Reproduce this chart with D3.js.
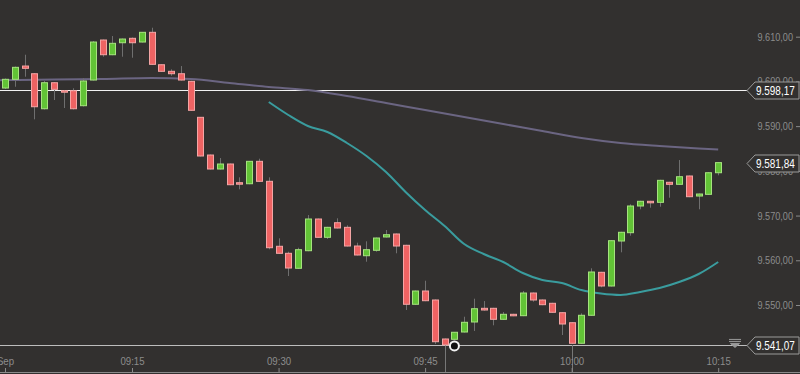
<!DOCTYPE html>
<html>
<head>
<meta charset="utf-8">
<script src="https://cdn.jsdelivr.net/npm/d3@7"></script>
<style>
  html, body { margin: 0; padding: 0; background: #32302f; overflow: hidden; }
  svg { display: block; }
  text { font-family: "Liberation Sans", Arial, sans-serif; }
</style>
</head>
<body>
<svg id="chart" width="800" height="374"></svg>
<script>
//-----------------------------------------------------//
// Data (1 minute candles)

const startTime = "09:02";
const endTime = "10:15";

const opens = [9598.52, 9600.47, 9603.44, 9601.72, 9593.89, 9599.71, 9597.92, 9597.92, 9594.57, 9600.31,
  9609.26, 9605.97, 9608.65, 9609.64, 9608.81, 9610.98, 9603.73, 9602.26, 9601.72, 9600.02,
  9591.97, 9583.54, 9580.41, 9581.53, 9577.35, 9577.12, 9582.13, 9577.66, 9563.13, 9561.56,
  9558.21, 9562.14, 9569.23, 9565.14, 9568.40, 9567.37, 9563.19, 9561.02, 9562.23, 9565.21,
  9565.88, 9563.35, 9550.16, 9553.13, 9551.12, 9542.40, 9542.33, 9543.96, 9546.20, 9549.26,
  9549.26, 9546.80, 9547.92, 9547.61, 9552.68, 9551.12, 9550.38, 9548.28, 9546.04, 9541.44,
  9547.70, 9557.31, 9554.25, 9564.31, 9566.17, 9572.14, 9573.19, 9572.96, 9577.44, 9576.99,
  9578.85, 9574.37, 9574.75, 9579.58];
const highs = [9600.65, 9603.33, 9605.97, 9601.88, 9600.09, 9599.87, 9598.08, 9598.46, 9600.69, 9609.03,
  9609.37, 9610.15, 9609.59, 9609.82, 9611.05, 9612.01, 9603.82, 9602.70, 9603.44, 9600.13,
  9592.04, 9583.65, 9582.87, 9581.64, 9578.55, 9582.20, 9582.71, 9578.55, 9564.91, 9561.92,
  9562.81, 9570.12, 9569.34, 9567.48, 9569.39, 9567.82, 9563.93, 9564.24, 9565.09, 9566.77,
  9565.99, 9563.46, 9553.24, 9555.43, 9551.23, 9542.50, 9543.96, 9547.38, 9551.41, 9550.89,
  9549.37, 9548.43, 9548.03, 9553.13, 9552.80, 9551.23, 9550.49, 9548.39, 9546.15, 9548.14,
  9558.21, 9557.42, 9564.49, 9566.37, 9572.52, 9573.30, 9573.30, 9577.99, 9577.55, 9582.42,
  9578.96, 9574.93, 9579.69, 9581.86];
const lows = [9598.30, 9598.81, 9601.05, 9591.52, 9593.72, 9595.84, 9594.05, 9593.72, 9594.39, 9600.20,
  9605.52, 9605.86, 9605.52, 9605.30, 9608.70, 9603.71, 9602.15, 9601.27, 9600.20, 9593.43,
  9583.21, 9580.30, 9580.30, 9576.79, 9575.87, 9577.01, 9577.55, 9562.46, 9561.45, 9556.48,
  9558.09, 9562.03, 9565.03, 9564.76, 9567.11, 9563.08, 9561.07, 9559.68, 9561.92, 9565.09,
  9561.56, 9548.88, 9550.04, 9550.85, 9541.28, 9541.07, 9542.22, 9543.85, 9544.19, 9548.73,
  9545.46, 9546.69, 9547.50, 9547.50, 9550.74, 9549.96, 9548.26, 9543.29, 9541.28, 9541.33,
  9547.59, 9553.96, 9554.14, 9561.78, 9565.50, 9571.40, 9571.76, 9571.98, 9573.99, 9576.88,
  9574.11, 9571.40, 9574.64, 9579.00];
const closes = [9600.47, 9603.15, 9602.93, 9594.34, 9599.71, 9598.23, 9597.70, 9593.89, 9600.09, 9608.81,
  9605.97, 9608.52, 9609.48, 9608.65, 9610.98, 9603.82, 9602.26, 9601.72, 9600.31, 9593.54,
  9583.32, 9580.41, 9581.53, 9576.90, 9577.21, 9582.13, 9577.66, 9562.81, 9561.56, 9558.27,
  9562.37, 9569.23, 9565.14, 9567.37, 9567.22, 9563.19, 9561.18, 9562.37, 9564.98, 9565.72,
  9563.19, 9550.16, 9553.13, 9550.96, 9541.79, 9541.07, 9543.90, 9546.13, 9549.17, 9548.88,
  9546.80, 9547.92, 9547.61, 9552.68, 9551.12, 9550.07, 9548.37, 9545.75, 9541.44, 9547.70,
  9557.38, 9554.25, 9564.38, 9566.26, 9572.14, 9573.19, 9572.88, 9577.88, 9576.99, 9578.69,
  9574.22, 9574.82, 9579.58, 9581.84];

// slow moving average (purple)
const slowMaTimes = ["09:01", "09:02", "09:07", "09:12", "09:17", "09:21", "09:25", "09:29", "09:33", "09:37",
  "09:41", "09:45", "09:49", "09:53", "09:57", "10:01", "10:05", "10:09", "10:13", "10:15"];
const slowMaValues = [9600.25, 9600.31, 9600.42, 9600.54, 9600.76, 9600.54, 9599.64, 9598.75, 9598.08, 9596.73,
  9595.17, 9593.60, 9592.04, 9590.47, 9588.91, 9587.34, 9586.23, 9585.55, 9585.00, 9584.77];

// fast moving average (teal)
const fastMaTimes = ["09:29", "09:31", "09:33", "09:35", "09:37", "09:39", "09:41", "09:43", "09:45", "09:47",
  "09:49", "09:51", "09:53", "09:55", "09:57", "09:59", "10:01", "10:03", "10:05", "10:07",
  "10:09", "10:11", "10:13", "10:15"];
const fastMaValues = [9595.39, 9592.49, 9590.03, 9588.69, 9586.23, 9583.32, 9579.74, 9575.27, 9571.24, 9567.67,
  9563.64, 9561.40, 9559.62, 9557.16, 9555.59, 9554.92, 9553.35, 9552.57, 9552.24, 9552.91,
  9553.80, 9555.14, 9556.93, 9559.62];

const priceTicks = [9550, 9560, 9570, 9580, 9590, 9600, 9610];
const timeTicks = ["09:02", "09:15", "09:30", "09:45", "10:00", "10:15"];
const timeTickLabels = ["Sep", "09:15", "09:30", "09:45", "10:00", "10:15"];

const refLevel = 9598.17;   // white horizontal line
const lowLevel = 9541.07;   // session low line
const lastPrice = 9581.84;
const lowMarkTimes = ["09:47", "10:00"];  // candles touching the low
const circleTime = "09:48";

//-----------------------------------------------------//

const parseT = d3.timeParse("%H:%M");
const times = d3.timeMinute.range(parseT(startTime), d3.timeMinute.offset(parseT(endTime), 1));
const candles = times.map((t, i) => ({ t: t, o: opens[i], h: highs[i], l: lows[i], c: closes[i] }));

const locale = d3.formatLocale({ decimal: ",", thousands: ".", grouping: [3], currency: ["", ""] });
const fmt = locale.format(",.2f");

// narrow-looking text: squeeze horizontally
const squeeze = 0.83;

const svg = d3.select("#chart");

const x = d3.scaleTime()
  .domain([parseT(startTime), parseT(endTime)])
  .range([5, 718.2]);

const y = d3.scaleLinear()
  .domain([9550, 9610])
  .range([305, 36.7]);

const bodyW = 7;

// ref line
svg.append("line")
  .attr("x1", 0).attr("x2", 748)
  .attr("y1", Math.round(y(refLevel)) + 0.5).attr("y2", Math.round(y(refLevel)) + 0.5)
  .attr("stroke", "#f2f2f2").attr("stroke-width", 1);

// low line
svg.append("line")
  .attr("x1", 0).attr("x2", 748)
  .attr("y1", Math.round(y(lowLevel)) + 0.5).attr("y2", Math.round(y(lowLevel)) + 0.5)
  .attr("stroke", "#bdbdbd").attr("stroke-width", 1);

// vertical marks under the low candles
svg.selectAll(".lowmark")
  .data(lowMarkTimes)
  .enter().append("line")
  .attr("class", "lowmark")
  .attr("x1", d => Math.round(x(parseT(d))) + 0.5)
  .attr("x2", d => Math.round(x(parseT(d))) + 0.5)
  .attr("y1", y(lowLevel)).attr("y2", 372)
  .attr("stroke", "#777").attr("stroke-width", 1);

// moving averages
const slowLine = d3.line()
  .x((d, i) => x(parseT(slowMaTimes[i])))
  .y(d => y(d))
  .curve(d3.curveMonotoneX);

svg.append("path")
  .datum(slowMaValues)
  .attr("d", slowLine)
  .attr("fill", "none")
  .attr("stroke", "#6b6582")
  .attr("stroke-width", 2);

const fastLine = d3.line()
  .x((d, i) => x(parseT(fastMaTimes[i])))
  .y(d => y(d))
  .curve(d3.curveMonotoneX);

svg.append("path")
  .datum(fastMaValues)
  .attr("d", fastLine)
  .attr("fill", "none")
  .attr("stroke", "#3a9c9e")
  .attr("stroke-width", 2);

// candles
const candle = svg.selectAll(".candle")
  .data(candles)
  .enter().append("g")
  .attr("class", "candle");

candle.append("line")
  .attr("x1", d => Math.round(x(d.t)) + 0.5)
  .attr("x2", d => Math.round(x(d.t)) + 0.5)
  .attr("y1", d => y(d.h))
  .attr("y2", d => y(d.l))
  .attr("stroke", "#6f6f6f")
  .attr("stroke-width", 1);

candle.append("rect")
  .attr("x", d => Math.round(x(d.t)) - 3 + 0.5)
  .attr("y", d => y(Math.max(d.o, d.c)))
  .attr("width", bodyW - 1)
  .attr("height", d => Math.max(1.5, Math.abs(y(d.o) - y(d.c))))
  .attr("fill", d => d.c >= d.o ? "#62c336" : "#ee6363")
  .attr("stroke", d => d.c >= d.o ? "#a6e27f" : "#f4a5a5")
  .attr("stroke-width", 1);

// circle marker
svg.append("circle")
  .attr("cx", x(parseT(circleTime)))
  .attr("cy", y(lowLevel) + 1)
  .attr("r", 4.5)
  .attr("fill", "#111")
  .attr("stroke", "#f2f2f2")
  .attr("stroke-width", 2);

// right price axis
const yAxis = d3.axisLeft(y)
  .tickValues(priceTicks)
  .tickSize(4)
  .tickPadding(2)
  .tickFormat(fmt);

const gy = svg.append("g")
  .attr("transform", "translate(800,0)")
  .call(yAxis);
gy.select(".domain").remove();
gy.selectAll(".tick line").attr("stroke", "#8a8a8a");
gy.selectAll(".tick text")
  .attr("fill", "#8c8c8c")
  .attr("x", -7 / squeeze)
  .attr("transform", `scale(${squeeze},1)`)
  .style("font-size", "11px");

// bottom time axis
const xAxis = d3.axisTop(x)
  .tickValues(timeTicks.map(parseT))
  .tickSize(4)
  .tickPadding(3)
  .tickFormat((d, i) => timeTickLabels[i]);

const gx = svg.append("g")
  .attr("transform", "translate(0,372)")
  .call(xAxis);
gx.select(".domain").attr("stroke", "#8a8a8a").attr("d", "M0,0.5H800");
gx.selectAll(".tick line").attr("stroke", "#8a8a8a");
gx.selectAll(".tick text")
  .attr("fill", "#8c8c8c")
  .attr("transform", "scale(0.88,1)")
  .style("font-size", "11px");

// small icon left of the low label
const ic = svg.append("g").attr("transform", `translate(735,${y(lowLevel)})`);
ic.append("path").attr("d", "M-6,-5.5H6M-6,-3.5H6M-4.5,-1.5H4.5L0,2.5Z")
  .attr("stroke", "#9a9a9a").attr("fill", "#9a9a9a").attr("stroke-width", 1);

// price labels
function priceLabel(value)
{
  let yc = Math.round(y(value)) + 0.5;
  let g = svg.append("g").attr("transform", `translate(0,${yc})`);
  g.append("path")
    .attr("d", "M747,0L755,-8.5H799V8.5H755Z")
    .attr("fill", "#32302f")
    .attr("stroke", "#9a9a9a")
    .attr("stroke-width", 1);
  g.append("text")
    .attr("x", 756 / squeeze)
    .attr("dy", "0.36em")
    .attr("fill", "#ffffff")
    .attr("transform", `scale(${squeeze},1)`)
    .style("font-size", "12px")
    .text(fmt(value));
}

priceLabel(refLevel);
priceLabel(lastPrice);
priceLabel(lowLevel);
</script>
</body>
</html>
